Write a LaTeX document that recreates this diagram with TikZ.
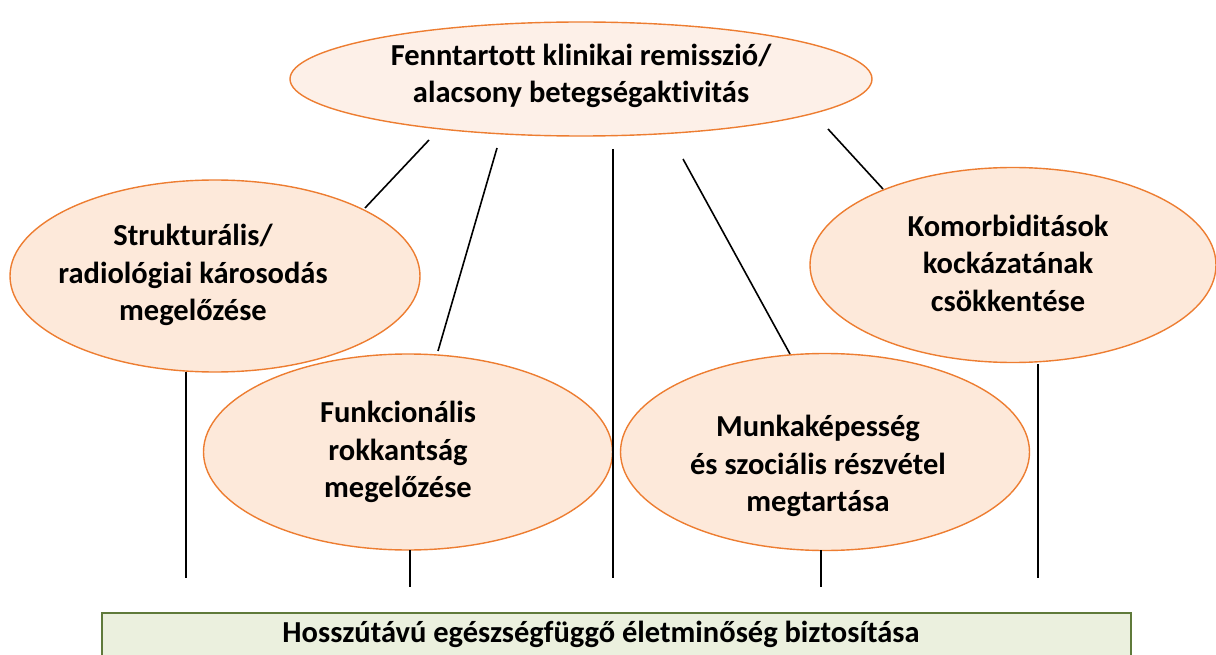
\documentclass[tikz,border=0pt]{standalone}
\usepackage{fontspec}
\setmainfont{Carlito}[Ligatures={NoCommon}]
\usetikzlibrary{shapes.geometric}
\definecolor{ellfill}{HTML}{FDE9DA}
\definecolor{topfill}{HTML}{FDF0E8}
\definecolor{ellline}{HTML}{ED7D31}
\definecolor{boxfill}{HTML}{EBF0DE}
\definecolor{boxline}{HTML}{5F7A3A}
\tikzset{
  goal/.style={ellipse, draw=ellline, line width=1.4pt, fill=ellfill, inner sep=0pt},
  lbl/.style={align=center, font=\fontsize{30.5}{37.5}\selectfont\bfseries},
  conn/.style={line width=1.6pt, black},
}
\begin{document}
\begin{tikzpicture}[x=1pt,y=-1pt]
\useasboundingbox (0,0) rectangle (1216,655);
% bottom box
\node[draw=boxline, line width=1.5pt, fill=boxfill, minimum width=1029pt, minimum height=60pt, anchor=north west, inner sep=0pt] (base) at (101,612) {};
\node[lbl, anchor=center] (baset) at (601,634) {Hosszútávú egészségfüggő életminőség biztosítása};
% ellipses
\node[goal, fill=topfill, minimum width=582pt, minimum height=114pt] (top) at (581,79) {};
\node[lbl] (topt) at (581,76) {Fenntartott klinikai remisszió/\\alacsony betegségaktivitás};
\node[goal, minimum width=410pt, minimum height=192pt] (str) at (215,276) {};
\node[lbl] (strt) at (193,275) {Strukturális/\\radiológiai károsodás\\megelőzése};
\node[goal, minimum width=406pt, minimum height=195pt] (kom) at (1013,265) {};
\node[lbl] (komt) at (1008,263) {Komorbiditások\\kockázatának\\csökkentése};
\node[goal, minimum width=409pt, minimum height=196pt] (fun) at (408,452) {};
\node[lbl] (funt) at (398,452) {Funkcionális\\rokkantság\\megelőzése};
\node[goal, minimum width=409pt, minimum height=197pt] (mun) at (825,452) {};
\node[lbl] (munt) at (818,466) {Munkaképesség\\és szociális részvétel\\megtartása};
% free ends
\coordinate (a1) at (429,140);
\coordinate (a2) at (365,208);
\coordinate (b1) at (497,148);
\coordinate (b2) at (438,351);
\coordinate (c1) at (613,149);
\coordinate (c2) at (613,578);
\coordinate (d1) at (683,159);
\coordinate (d2) at (790,354);
\coordinate (e1) at (828,129);
\coordinate (e2) at (883,189);
\coordinate (f1) at (186,372);
\coordinate (f2) at (186,578);
\coordinate (g1) at (410,550);
\coordinate (g2) at (410,587);
\coordinate (h1) at (821,550);
\coordinate (h2) at (821,587);
\coordinate (i1) at (1038,364);
\coordinate (i2) at (1038,578);
\draw[conn] (a1) -- (a2);
\draw[conn] (b1) -- (b2);
\draw[conn] (c1) -- (c2);
\draw[conn] (d1) -- (d2);
\draw[conn] (e1) -- (e2);
\draw[conn] (f1) -- (f2);
\draw[conn] (g1) -- (g2);
\draw[conn] (h1) -- (h2);
\draw[conn] (i1) -- (i2);
\end{tikzpicture}
\end{document}
